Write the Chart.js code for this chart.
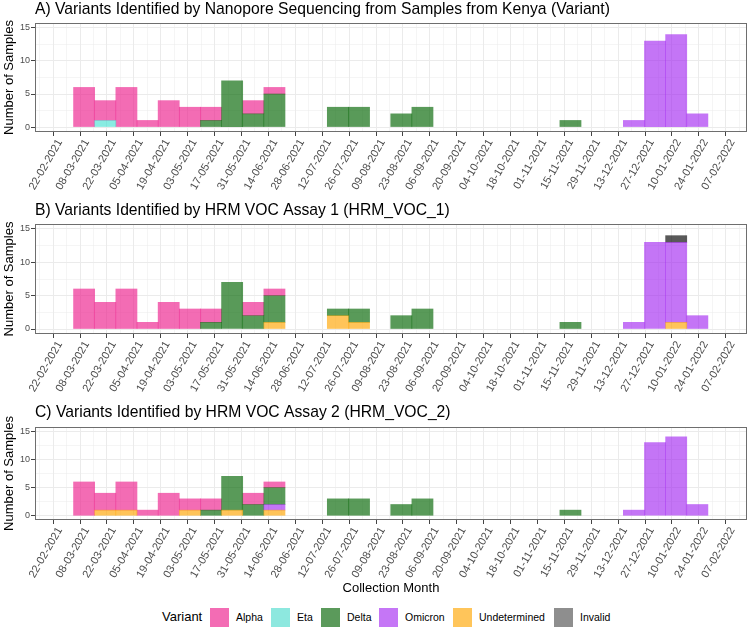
<!DOCTYPE html>
<html>
<head>
<meta charset="utf-8">
<script src="https://cdn.jsdelivr.net/npm/chart.js@4.4.0/dist/chart.umd.min.js"></script>
<style>
  html, body { margin: 0; padding: 0; background: #ffffff; }
  body { width: 749px; height: 633px; position: relative; overflow: hidden;
         font-family: "Liberation Sans", Arial, sans-serif; }
  .panel { position: absolute; left: 0; width: 749px; }
  #legend { position: absolute; left: 0; top: 600px; width: 749px; height: 33px; }
  .sw { position: absolute; width: 19px; height: 19px; top: 7.5px; }
  .lt { position: absolute; top: 10px; font-size: 10.5px; line-height: 14px; color: #000; white-space: nowrap; }
  .ltitle { position: absolute; top: 8px; font-size: 13px; line-height: 17px; color: #000; }
</style>
</head>
<body>
<canvas id="cA" class="panel" style="top:0px" width="749" height="200"></canvas>
<canvas id="cB" class="panel" style="top:200px" width="749" height="200"></canvas>
<canvas id="cC" class="panel" style="top:400px" width="749" height="200"></canvas>
<div id="legend"></div>
<script>
// ---------------- DATA ----------------
const tickLabels = ['22-02-2021','08-03-2021','22-03-2021','05-04-2021','19-04-2021','03-05-2021',
  '17-05-2021','31-05-2021','14-06-2021','28-06-2021','12-07-2021','26-07-2021','09-08-2021',
  '23-08-2021','06-09-2021','20-09-2021','04-10-2021','18-10-2021','01-11-2021','15-11-2021',
  '29-11-2021','13-12-2021','27-12-2021','10-01-2022','24-01-2022','07-02-2022'];
const yTickLabels = ['0','5','10','15'];
const variants = ['Alpha','Eta','Delta','Omicron','Undetermined','Invalid'];

// 30 histogram bins (counts per bin, bin 0 starts ~01-03-2021, bin width ~11 days)
// Panel A: Nanopore sequencing
const nanoAlpha   = [6,3,6,1,4,3,2,0,2,1, 0,0,0,0,0,0,0,0,0,0, 0,0,0,0,0,0,0,0,0,0];
const nanoEta     = [0,1,0,0,0,0,0,0,0,0, 0,0,0,0,0,0,0,0,0,0, 0,0,0,0,0,0,0,0,0,0];
const nanoDelta   = [0,0,0,0,0,0,1,7,2,5, 0,0,3,3,0,2,3,0,0,0, 0,0,0,1,0,0,0,0,0,0];
const nanoOmicron = [0,0,0,0,0,0,0,0,0,0, 0,0,0,0,0,0,0,0,0,0, 0,0,0,0,0,0,1,13,14,2];
const nanoUndet   = [0,0,0,0,0,0,0,0,0,0, 0,0,0,0,0,0,0,0,0,0, 0,0,0,0,0,0,0,0,0,0];
const nanoInvalid = [0,0,0,0,0,0,0,0,0,0, 0,0,0,0,0,0,0,0,0,0, 0,0,0,0,0,0,0,0,0,0];
// Panel B: HRM VOC Assay 1
const voc1Alpha   = [6,4,6,1,4,3,2,0,2,1, 0,0,0,0,0,0,0,0,0,0, 0,0,0,0,0,0,0,0,0,0];
const voc1Eta     = [0,0,0,0,0,0,0,0,0,0, 0,0,0,0,0,0,0,0,0,0, 0,0,0,0,0,0,0,0,0,0];
const voc1Delta   = [0,0,0,0,0,0,1,7,2,4, 0,0,1,2,0,2,3,0,0,0, 0,0,0,1,0,0,0,0,0,0];
const voc1Omicron = [0,0,0,0,0,0,0,0,0,0, 0,0,0,0,0,0,0,0,0,0, 0,0,0,0,0,0,1,13,12,2];
const voc1Undet   = [0,0,0,0,0,0,0,0,0,1, 0,0,2,1,0,0,0,0,0,0, 0,0,0,0,0,0,0,0,1,0];
const voc1Invalid = [0,0,0,0,0,0,0,0,0,0, 0,0,0,0,0,0,0,0,0,0, 0,0,0,0,0,0,0,0,1,0];
// Panel C: HRM VOC Assay 2
const voc2Alpha   = [6,3,5,1,4,2,2,0,2,1, 0,0,0,0,0,0,0,0,0,0, 0,0,0,0,0,0,0,0,0,0];
const voc2Eta     = [0,0,0,0,0,0,0,0,0,0, 0,0,0,0,0,0,0,0,0,0, 0,0,0,0,0,0,0,0,0,0];
const voc2Delta   = [0,0,0,0,0,0,1,6,2,3, 0,0,3,3,0,2,3,0,0,0, 0,0,0,1,0,0,0,0,0,0];
const voc2Omicron = [0,0,0,0,0,0,0,0,0,1, 0,0,0,0,0,0,0,0,0,0, 0,0,0,0,0,0,1,13,14,2];
const voc2Undet   = [0,1,1,0,0,1,0,1,0,1, 0,0,0,0,0,0,0,0,0,0, 0,0,0,0,0,0,0,0,0,0];
const voc2Invalid = [0,0,0,0,0,0,0,0,0,0, 0,0,0,0,0,0,0,0,0,0, 0,0,0,0,0,0,0,0,0,0];

// ---------------- STYLE / LAYOUT ----------------
const FONT = '"Liberation Sans", Arial, sans-serif';
const colors = {
  Alpha: 'rgba(237,29,140,0.65)',
  Eta: 'rgba(64,224,208,0.62)',
  Delta: 'rgba(0,100,0,0.65)',
  Omicron: 'rgba(160,32,240,0.62)',
  Undetermined: 'rgba(255,165,0,0.65)',
  Invalid: 'rgba(0,0,0,0.65)'
};
const legendColors = {
  Alpha: '#F36CB4', Eta: '#8DE8DF', Delta: '#5B9A5B', Omicron: '#C576F6',
  Undetermined: '#FFC55A', Invalid: '#8E8E8E'
};
// stacking order bottom -> top
const stackOrder = ['Undetermined','Omicron','Delta','Eta','Alpha','Invalid'];
// x axis in days since 22-02-2021
const TICK_STEP = 14;
const X_MIN = -9.4, X_MAX = 354.0;
const BIN_FIRST_CENTER = 12.6, BIN_WIDTH = 11.004;
const binCenters = nanoAlpha.map((_, i) => BIN_FIRST_CENTER + i * BIN_WIDTH);

function xTicks() {
  const t = [{value: -TICK_STEP / 2}];
  tickLabels.forEach((_, i) => {
    t.push({value: i * TICK_STEP});
    if ((i * TICK_STEP + TICK_STEP / 2) < X_MAX) t.push({value: i * TICK_STEP + TICK_STEP / 2});
  });
  return t;
}
function isMajorX(v) { return v >= 0 && Math.abs(v % TICK_STEP) < 1e-9; }
function yTicks() {
  const t = [];
  yTickLabels.forEach((lab, i) => {
    t.push({value: Number(lab)});
    if (i < yTickLabels.length - 1) t.push({value: Number(lab) + 2.5});
  });
  return t;
}

const panelDeco = {
  id: 'panelDeco',
  afterDraw(chart, args, opts) {
    const {ctx, chartArea: a} = chart;
    ctx.save();
    ctx.strokeStyle = '#6e6e6e';
    ctx.lineWidth = 1;
    ctx.strokeRect(Math.round(a.left) + 0.5, Math.round(a.top) + 0.5,
                   Math.round(a.right - a.left) - 1, Math.round(a.bottom - a.top) - 1);
    ctx.fillStyle = '#000';
    ctx.font = '15.7px ' + FONT;
    ctx.textAlign = 'left';
    ctx.textBaseline = 'alphabetic';
    ctx.fillText(opts.text, a.left, opts.y);
    ctx.restore();
  }
};

function makePanel(id, title, titleY, series, cfg) {
  const datasets = stackOrder.map(name => ({
    label: name,
    data: series[name].map((v, i) => ({x: binCenters[i], y: v === 0 ? null : v})),
    backgroundColor: colors[name],
    borderWidth: 0,
    barThickness: 'flex',
    categoryPercentage: 1.0,
    barPercentage: 1.0
  }));
  return new Chart(document.getElementById(id), {
    type: 'bar',
    data: {datasets},
    plugins: [panelDeco],
    options: {
      responsive: false,
      animation: false,
      devicePixelRatio: 1,
      layout: {padding: {top: cfg.top, right: 2, left: 0, bottom: 0}},
      plugins: {
        legend: {display: false},
        tooltip: {enabled: false},
        panelDeco: {text: title, y: titleY}
      },
      scales: {
        x: {
          type: 'linear',
          stacked: true,
          min: X_MIN, max: X_MAX,
          afterBuildTicks: s => { s.ticks = xTicks(); },
          afterFit: s => { s.height = cfg.xHeight; },
          border: {display: false},
          grid: {
            color: '#EBEBEB',
            lineWidth: c => (c.tick && isMajorX(c.tick.value)) ? 1 : 0.5,
            drawTicks: true,
            tickLength: 4,
            tickWidth: 1,
            tickColor: c => (c.tick && isMajorX(c.tick.value)) ? '#444444' : 'rgba(0,0,0,0)'
          },
          ticks: {
            autoSkip: false,
            maxRotation: 60, minRotation: 60,
            padding: 1,
            color: '#4D4D4D',
            font: {family: FONT, size: 11},
            callback: v => isMajorX(v) ? tickLabels[Math.round(v / TICK_STEP)] : ''
          },
          title: cfg.xTitle ? {
            display: true, text: cfg.xTitle, color: '#000',
            font: {family: FONT, size: 13}, padding: {top: 0, bottom: 4}
          } : {display: false}
        },
        y: {
          type: 'linear',
          stacked: true,
          min: -0.75, max: 15.75,
          afterBuildTicks: s => { s.ticks = yTicks(); },
          afterFit: s => { s.width = 35; },
          border: {display: false},
          grid: {
            color: '#EBEBEB',
            lineWidth: c => (c.tick && c.tick.value % 5 === 0) ? 1 : 0.5,
            drawTicks: true,
            tickLength: 4,
            tickWidth: 1,
            tickColor: c => (c.tick && c.tick.value % 5 === 0) ? '#444444' : 'rgba(0,0,0,0)'
          },
          ticks: {
            autoSkip: false,
            padding: 1,
            color: '#4D4D4D',
            font: {family: FONT, size: 9},
            callback: v => (v % 5 === 0) ? String(v) : ''
          },
          title: {
            display: true, text: 'Number of Samples', color: '#000',
            font: {family: FONT, size: 13}, padding: {top: 2, bottom: 0}
          }
        }
      }
    }
  });
}

makePanel('cA', 'A) Variants Identified by Nanopore Sequencing from Samples from Kenya (Variant)', 14,
  {Alpha: nanoAlpha, Eta: nanoEta, Delta: nanoDelta, Omicron: nanoOmicron, Undetermined: nanoUndet, Invalid: nanoInvalid},
  {top: 23, xHeight: 68});
makePanel('cB', 'B) Variants Identified by HRM VOC Assay 1 (HRM_VOC_1)', 15,
  {Alpha: voc1Alpha, Eta: voc1Eta, Delta: voc1Delta, Omicron: voc1Omicron, Undetermined: voc1Undet, Invalid: voc1Invalid},
  {top: 24, xHeight: 66});
makePanel('cC', 'C) Variants Identified by HRM VOC Assay 2 (HRM_VOC_2)', 17,
  {Alpha: voc2Alpha, Eta: voc2Eta, Delta: voc2Delta, Omicron: voc2Omicron, Undetermined: voc2Undet, Invalid: voc2Invalid},
  {top: 27, xHeight: 80, xTitle: 'Collection Month'});

// ---------------- LEGEND ----------------
const legendPos = {Alpha: [210, 236], Eta: [271, 297], Delta: [321, 347],
                   Omicron: [379, 405], Undetermined: [453, 479], Invalid: [554, 580]};
const lg = document.getElementById('legend');
const lt = document.createElement('div');
lt.className = 'ltitle'; lt.style.left = '162px'; lt.textContent = 'Variant';
lg.appendChild(lt);
variants.forEach(v => {
  const s = document.createElement('div');
  s.className = 'sw'; s.style.left = legendPos[v][0] + 'px'; s.style.background = legendColors[v];
  lg.appendChild(s);
  const t = document.createElement('div');
  t.className = 'lt'; t.style.left = legendPos[v][1] + 'px'; t.textContent = v;
  lg.appendChild(t);
});
</script>
</body>
</html>
